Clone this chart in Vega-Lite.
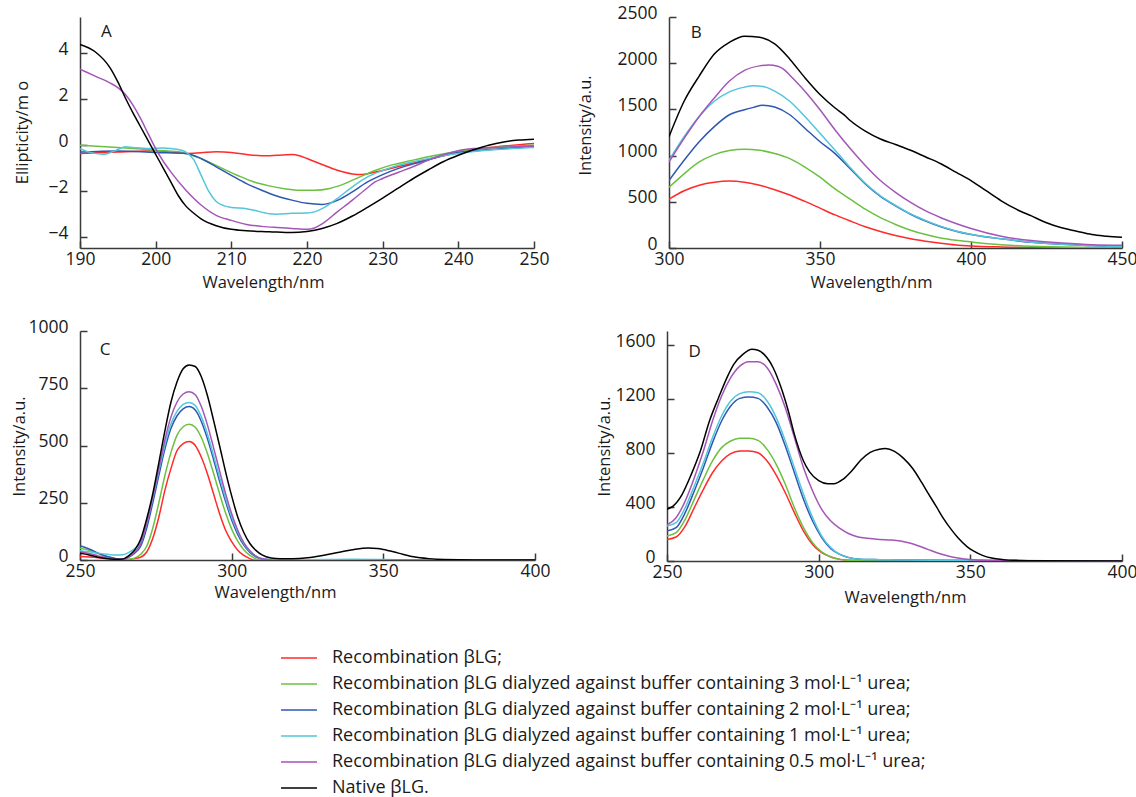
{
 "$schema": "https://vega.github.io/schema/vega-lite/v6.json",
 "padding": {"left": 11, "top": 4, "right": 10, "bottom": 5},
 "background": "white",
 "bounds": "flush",
 "spacing": 314,
 "config": {
  "view": {"stroke": null},
  "font": "Open Sans",
  "axis": {"domainColor": "#3a3a3a", "domainWidth": 1.5, "tickColor": "#3a3a3a", "tickWidth": 1.5, "tickSize": -7, "grid": false, "labelFont": "Open Sans", "labelFontSize": 17.5, "labelColor": "#1a1a1a", "titleFont": "Open Sans", "titleFontSize": 16.5, "titleFontWeight": "normal", "titleColor": "#1a1a1a", "labelFlush": false, "labelOverlap": false, "titleBaseline": "middle", "titleAlign": "center", "format": "d"},
  "axisX": {"labelPadding": 9},
  "axisY": {"labelPadding": 19, "labelOffset": -4},
  "line": {"strokeWidth": 1.5, "interpolate": "monotone"},
  "text": {"font": "Open Sans", "fontSize": 17, "color": "#1a1a1a"}
 },
 "datasets": {
  "A": [
   {"s":"R","x":190,"y":-0.36},{"s":"R","x":195,"y":-0.3},{"s":"R","x":200,"y":-0.24},{"s":"R","x":202,"y":-0.3},{"s":"R","x":204,"y":-0.36},{"s":"R","x":206,"y":-0.33},{"s":"R","x":208,"y":-0.29},{"s":"R","x":210,"y":-0.32},{"s":"R","x":212,"y":-0.41},{"s":"R","x":214,"y":-0.46},{"s":"R","x":216,"y":-0.44},{"s":"R","x":218,"y":-0.41},{"s":"R","x":219,"y":-0.46},{"s":"R","x":220,"y":-0.58},{"s":"R","x":222,"y":-0.84},{"s":"R","x":224,"y":-1.09},{"s":"R","x":226,"y":-1.25},{"s":"R","x":227,"y":-1.28},{"s":"R","x":228,"y":-1.24},{"s":"R","x":230,"y":-1.1},{"s":"R","x":232,"y":-0.94},{"s":"R","x":235,"y":-0.7},{"s":"R","x":238,"y":-0.46},{"s":"R","x":240,"y":-0.32},{"s":"R","x":243,"y":-0.15},{"s":"R","x":246,"y":-0.04},{"s":"R","x":250,"y":0.07},
   {"s":"U3","x":190,"y":0},{"s":"U3","x":195,"y":-0.1},{"s":"U3","x":200,"y":-0.22},{"s":"U3","x":203,"y":-0.29},{"s":"U3","x":205,"y":-0.46},{"s":"U3","x":207,"y":-0.73},{"s":"U3","x":209,"y":-1.04},{"s":"U3","x":211,"y":-1.34},{"s":"U3","x":213,"y":-1.6},{"s":"U3","x":215,"y":-1.77},{"s":"U3","x":217,"y":-1.89},{"s":"U3","x":219,"y":-1.96},{"s":"U3","x":221,"y":-1.96},{"s":"U3","x":223,"y":-1.88},{"s":"U3","x":225,"y":-1.67},{"s":"U3","x":227,"y":-1.38},{"s":"U3","x":229,"y":-1.1},{"s":"U3","x":231,"y":-0.88},{"s":"U3","x":234,"y":-0.65},{"s":"U3","x":237,"y":-0.44},{"s":"U3","x":240,"y":-0.26},{"s":"U3","x":243,"y":-0.15},{"s":"U3","x":246,"y":-0.07},{"s":"U3","x":250,"y":0},
   {"s":"U2","x":190,"y":-0.3},{"s":"U2","x":195,"y":-0.25},{"s":"U2","x":200,"y":-0.32},{"s":"U2","x":204,"y":-0.36},{"s":"U2","x":206,"y":-0.58},{"s":"U2","x":208,"y":-0.94},{"s":"U2","x":210,"y":-1.31},{"s":"U2","x":212,"y":-1.67},{"s":"U2","x":214,"y":-1.96},{"s":"U2","x":216,"y":-2.21},{"s":"U2","x":218,"y":-2.39},{"s":"U2","x":220,"y":-2.53},{"s":"U2","x":222,"y":-2.58},{"s":"U2","x":223,"y":-2.52},{"s":"U2","x":224,"y":-2.4},{"s":"U2","x":226,"y":-2.03},{"s":"U2","x":228,"y":-1.6},{"s":"U2","x":230,"y":-1.28},{"s":"U2","x":232,"y":-1.02},{"s":"U2","x":235,"y":-0.73},{"s":"U2","x":238,"y":-0.46},{"s":"U2","x":240,"y":-0.32},{"s":"U2","x":243,"y":-0.22},{"s":"U2","x":246,"y":-0.15},{"s":"U2","x":250,"y":-0.05},
   {"s":"U1","x":190,"y":-0.15},{"s":"U1","x":191,"y":-0.28},{"s":"U1","x":193,"y":-0.4},{"s":"U1","x":194.5,"y":-0.26},{"s":"U1","x":196,"y":-0.07},{"s":"U1","x":197,"y":-0.1},{"s":"U1","x":199,"y":-0.15},{"s":"U1","x":201,"y":-0.12},{"s":"U1","x":203,"y":-0.19},{"s":"U1","x":204,"y":-0.3},{"s":"U1","x":205,"y":-0.62},{"s":"U1","x":206,"y":-1.3},{"s":"U1","x":207,"y":-2.0},{"s":"U1","x":208,"y":-2.45},{"s":"U1","x":209,"y":-2.63},{"s":"U1","x":210,"y":-2.71},{"s":"U1","x":212,"y":-2.76},{"s":"U1","x":213,"y":-2.83},{"s":"U1","x":215,"y":-2.98},{"s":"U1","x":216,"y":-3.0},{"s":"U1","x":218,"y":-2.96},{"s":"U1","x":220,"y":-2.95},{"s":"U1","x":221,"y":-2.9},{"s":"U1","x":222,"y":-2.76},{"s":"U1","x":224,"y":-2.32},{"s":"U1","x":226,"y":-1.81},{"s":"U1","x":228,"y":-1.38},{"s":"U1","x":230,"y":-1.1},{"s":"U1","x":232,"y":-0.88},{"s":"U1","x":235,"y":-0.65},{"s":"U1","x":238,"y":-0.46},{"s":"U1","x":240,"y":-0.36},{"s":"U1","x":242,"y":-0.28},{"s":"U1","x":245,"y":-0.19},{"s":"U1","x":250,"y":-0.1},
   {"s":"U05","x":190,"y":3.3},{"s":"U05","x":192,"y":3.0},{"s":"U05","x":194,"y":2.7},{"s":"U05","x":195,"y":2.5},{"s":"U05","x":196,"y":2.2},{"s":"U05","x":197,"y":1.74},{"s":"U05","x":198,"y":1.16},{"s":"U05","x":199,"y":0.5},{"s":"U05","x":200,"y":-0.15},{"s":"U05","x":201,"y":-0.7},{"s":"U05","x":202,"y":-1.16},{"s":"U05","x":204,"y":-1.96},{"s":"U05","x":206,"y":-2.6},{"s":"U05","x":208,"y":-3.05},{"s":"U05","x":210,"y":-3.27},{"s":"U05","x":212,"y":-3.45},{"s":"U05","x":214,"y":-3.53},{"s":"U05","x":216,"y":-3.58},{"s":"U05","x":218,"y":-3.62},{"s":"U05","x":220,"y":-3.66},{"s":"U05","x":221,"y":-3.6},{"s":"U05","x":222,"y":-3.42},{"s":"U05","x":224,"y":-2.9},{"s":"U05","x":226,"y":-2.39},{"s":"U05","x":228,"y":-1.85},{"s":"U05","x":229,"y":-1.6},{"s":"U05","x":230,"y":-1.45},{"s":"U05","x":232,"y":-1.19},{"s":"U05","x":234,"y":-0.94},{"s":"U05","x":236,"y":-0.66},{"s":"U05","x":238,"y":-0.42},{"s":"U05","x":240,"y":-0.24},{"s":"U05","x":242,"y":-0.15},{"s":"U05","x":245,"y":-0.1},{"s":"U05","x":250,"y":-0.04},
   {"s":"N","x":190,"y":4.38},{"s":"N","x":192,"y":4.06},{"s":"N","x":194,"y":3.35},{"s":"N","x":195,"y":2.75},{"s":"N","x":196,"y":2.05},{"s":"N","x":197,"y":1.4},{"s":"N","x":198,"y":0.8},{"s":"N","x":199,"y":0.2},{"s":"N","x":200,"y":-0.4},{"s":"N","x":201,"y":-1.0},{"s":"N","x":202,"y":-1.6},{"s":"N","x":203,"y":-2.2},{"s":"N","x":204,"y":-2.65},{"s":"N","x":205,"y":-2.95},{"s":"N","x":206,"y":-3.2},{"s":"N","x":208,"y":-3.5},{"s":"N","x":210,"y":-3.66},{"s":"N","x":212,"y":-3.72},{"s":"N","x":215,"y":-3.76},{"s":"N","x":218,"y":-3.8},{"s":"N","x":220,"y":-3.75},{"s":"N","x":222,"y":-3.62},{"s":"N","x":224,"y":-3.4},{"s":"N","x":226,"y":-3.08},{"s":"N","x":228,"y":-2.7},{"s":"N","x":230,"y":-2.3},{"s":"N","x":232,"y":-1.88},{"s":"N","x":234,"y":-1.46},{"s":"N","x":236,"y":-1.08},{"s":"N","x":238,"y":-0.72},{"s":"N","x":240,"y":-0.44},{"s":"N","x":242,"y":-0.2},{"s":"N","x":244,"y":0.0},{"s":"N","x":246,"y":0.14},{"s":"N","x":248,"y":0.22},{"s":"N","x":250,"y":0.26}
  ],
  "B": [
   {"s":"R","x":300,"y":529},{"s":"R","x":305,"y":620},{"s":"R","x":310,"y":680},{"s":"R","x":315,"y":712},{"s":"R","x":320,"y":725},{"s":"R","x":325,"y":712},{"s":"R","x":330,"y":680},{"s":"R","x":335,"y":631},{"s":"R","x":340,"y":573},{"s":"R","x":345,"y":504},{"s":"R","x":350,"y":431},{"s":"R","x":355,"y":358},{"s":"R","x":360,"y":292},{"s":"R","x":365,"y":230},{"s":"R","x":370,"y":179},{"s":"R","x":375,"y":135},{"s":"R","x":380,"y":99},{"s":"R","x":385,"y":73},{"s":"R","x":390,"y":51},{"s":"R","x":395,"y":33},{"s":"R","x":400,"y":22},{"s":"R","x":410,"y":11},{"s":"R","x":425,"y":4},{"s":"R","x":450,"y":0},
   {"s":"U3","x":300,"y":657},{"s":"U3","x":305,"y":803},{"s":"U3","x":310,"y":931},{"s":"U3","x":315,"y":1011},{"s":"U3","x":320,"y":1055},{"s":"U3","x":325,"y":1070},{"s":"U3","x":330,"y":1058},{"s":"U3","x":335,"y":1022},{"s":"U3","x":340,"y":967},{"s":"U3","x":345,"y":876},{"s":"U3","x":350,"y":766},{"s":"U3","x":355,"y":639},{"s":"U3","x":360,"y":529},{"s":"U3","x":365,"y":420},{"s":"U3","x":370,"y":328},{"s":"U3","x":375,"y":255},{"s":"U3","x":380,"y":193},{"s":"U3","x":385,"y":146},{"s":"U3","x":390,"y":109},{"s":"U3","x":395,"y":84},{"s":"U3","x":400,"y":66},{"s":"U3","x":410,"y":36},{"s":"U3","x":420,"y":18},{"s":"U3","x":435,"y":7},{"s":"U3","x":450,"y":4},
   {"s":"U2","x":300,"y":730},{"s":"U2","x":305,"y":949},{"s":"U2","x":310,"y":1150},{"s":"U2","x":315,"y":1314},{"s":"U2","x":320,"y":1442},{"s":"U2","x":325,"y":1496},{"s":"U2","x":328,"y":1522},{"s":"U2","x":331,"y":1545},{"s":"U2","x":335,"y":1525},{"s":"U2","x":340,"y":1442},{"s":"U2","x":345,"y":1296},{"s":"U2","x":350,"y":1150},{"s":"U2","x":355,"y":1022},{"s":"U2","x":360,"y":858},{"s":"U2","x":365,"y":693},{"s":"U2","x":370,"y":558},{"s":"U2","x":375,"y":456},{"s":"U2","x":380,"y":365},{"s":"U2","x":385,"y":292},{"s":"U2","x":390,"y":230},{"s":"U2","x":395,"y":182},{"s":"U2","x":400,"y":146},{"s":"U2","x":410,"y":99},{"s":"U2","x":420,"y":62},{"s":"U2","x":430,"y":40},{"s":"U2","x":440,"y":26},{"s":"U2","x":450,"y":15},
   {"s":"U1","x":300,"y":949},{"s":"U1","x":305,"y":1204},{"s":"U1","x":310,"y":1423},{"s":"U1","x":315,"y":1588},{"s":"U1","x":320,"y":1690},{"s":"U1","x":325,"y":1741},{"s":"U1","x":328,"y":1757},{"s":"U1","x":332,"y":1741},{"s":"U1","x":335,"y":1697},{"s":"U1","x":340,"y":1588},{"s":"U1","x":345,"y":1423},{"s":"U1","x":350,"y":1241},{"s":"U1","x":355,"y":1058},{"s":"U1","x":360,"y":870},{"s":"U1","x":365,"y":700},{"s":"U1","x":370,"y":565},{"s":"U1","x":375,"y":462},{"s":"U1","x":380,"y":370},{"s":"U1","x":385,"y":296},{"s":"U1","x":390,"y":234},{"s":"U1","x":395,"y":185},{"s":"U1","x":400,"y":149},{"s":"U1","x":410,"y":100},{"s":"U1","x":420,"y":63},{"s":"U1","x":430,"y":40},{"s":"U1","x":440,"y":26},{"s":"U1","x":450,"y":15},
   {"s":"U05","x":300,"y":931},{"s":"U05","x":305,"y":1186},{"s":"U05","x":310,"y":1423},{"s":"U05","x":315,"y":1624},{"s":"U05","x":320,"y":1807},{"s":"U05","x":325,"y":1923},{"s":"U05","x":330,"y":1971},{"s":"U05","x":333,"y":1980},{"s":"U05","x":336,"y":1968},{"s":"U05","x":338,"y":1934},{"s":"U05","x":340,"y":1870},{"s":"U05","x":345,"y":1697},{"s":"U05","x":350,"y":1496},{"s":"U05","x":355,"y":1277},{"s":"U05","x":360,"y":1077},{"s":"U05","x":365,"y":894},{"s":"U05","x":370,"y":730},{"s":"U05","x":375,"y":602},{"s":"U05","x":380,"y":493},{"s":"U05","x":385,"y":401},{"s":"U05","x":390,"y":328},{"s":"U05","x":395,"y":266},{"s":"U05","x":400,"y":212},{"s":"U05","x":410,"y":128},{"s":"U05","x":420,"y":80},{"s":"U05","x":430,"y":55},{"s":"U05","x":440,"y":36},{"s":"U05","x":450,"y":29},
   {"s":"N","x":300,"y":1204},{"s":"N","x":305,"y":1588},{"s":"N","x":310,"y":1861},{"s":"N","x":315,"y":2099},{"s":"N","x":320,"y":2226},{"s":"N","x":325,"y":2292},{"s":"N","x":330,"y":2281},{"s":"N","x":335,"y":2208},{"s":"N","x":340,"y":2044},{"s":"N","x":345,"y":1843},{"s":"N","x":350,"y":1661},{"s":"N","x":355,"y":1515},{"s":"N","x":358,"y":1440},{"s":"N","x":360,"y":1380},{"s":"N","x":365,"y":1265},{"s":"N","x":370,"y":1180},{"s":"N","x":375,"y":1120},{"s":"N","x":380,"y":1058},{"s":"N","x":385,"y":985},{"s":"N","x":390,"y":912},{"s":"N","x":395,"y":821},{"s":"N","x":400,"y":730},{"s":"N","x":405,"y":620},{"s":"N","x":410,"y":511},{"s":"N","x":415,"y":420},{"s":"N","x":420,"y":347},{"s":"N","x":425,"y":274},{"s":"N","x":430,"y":219},{"s":"N","x":435,"y":182},{"s":"N","x":440,"y":146},{"s":"N","x":445,"y":128},{"s":"N","x":450,"y":115}
  ],
  "C": [
   {"s":"R","x":250,"y":15},{"s":"R","x":253,"y":13},{"s":"R","x":256,"y":10},{"s":"R","x":259,"y":5},{"s":"R","x":262,"y":0},{"s":"R","x":264,"y":-2},{"s":"R","x":266,"y":1},{"s":"R","x":268,"y":6},{"s":"R","x":270,"y":12},{"s":"R","x":272,"y":35},{"s":"R","x":274,"y":95},{"s":"R","x":276,"y":188},{"s":"R","x":278,"y":305},{"s":"R","x":280,"y":400},{"s":"R","x":282,"y":478},{"s":"R","x":284,"y":508},{"s":"R","x":286,"y":517},{"s":"R","x":288,"y":500},{"s":"R","x":290,"y":449},{"s":"R","x":292,"y":377},{"s":"R","x":294,"y":290},{"s":"R","x":296,"y":203},{"s":"R","x":298,"y":130},{"s":"R","x":300,"y":80},{"s":"R","x":302,"y":43},{"s":"R","x":304,"y":20},{"s":"R","x":306,"y":6},{"s":"R","x":308,"y":-3},{"s":"R","x":310,"y":-7},{"s":"R","x":315,"y":-10},{"s":"R","x":320,"y":-10},{"s":"R","x":330,"y":-9},{"s":"R","x":340,"y":-6},{"s":"R","x":350,"y":-3},{"s":"R","x":360,"y":-1},{"s":"R","x":370,"y":0},{"s":"R","x":400,"y":0},
   {"s":"U3","x":250,"y":51},{"s":"U3","x":253,"y":42},{"s":"U3","x":256,"y":28},{"s":"U3","x":259,"y":14},{"s":"U3","x":262,"y":4},{"s":"U3","x":264,"y":0},{"s":"U3","x":266,"y":3},{"s":"U3","x":268,"y":8},{"s":"U3","x":270,"y":25},{"s":"U3","x":272,"y":60},{"s":"U3","x":274,"y":140},{"s":"U3","x":276,"y":250},{"s":"U3","x":278,"y":370},{"s":"U3","x":280,"y":470},{"s":"U3","x":282,"y":545},{"s":"U3","x":284,"y":582},{"s":"U3","x":286,"y":593},{"s":"U3","x":288,"y":580},{"s":"U3","x":290,"y":535},{"s":"U3","x":292,"y":465},{"s":"U3","x":294,"y":380},{"s":"U3","x":296,"y":290},{"s":"U3","x":298,"y":205},{"s":"U3","x":300,"y":135},{"s":"U3","x":302,"y":82},{"s":"U3","x":304,"y":45},{"s":"U3","x":306,"y":20},{"s":"U3","x":308,"y":5},{"s":"U3","x":310,"y":-3},{"s":"U3","x":315,"y":-7},{"s":"U3","x":320,"y":-8},{"s":"U3","x":330,"y":-7},{"s":"U3","x":340,"y":-4},{"s":"U3","x":350,"y":-2},{"s":"U3","x":360,"y":-1},{"s":"U3","x":370,"y":0},{"s":"U3","x":400,"y":0},
   {"s":"U2","x":250,"y":62},{"s":"U2","x":253,"y":48},{"s":"U2","x":256,"y":30},{"s":"U2","x":259,"y":15},{"s":"U2","x":262,"y":6},{"s":"U2","x":264,"y":2},{"s":"U2","x":266,"y":12},{"s":"U2","x":268,"y":30},{"s":"U2","x":270,"y":60},{"s":"U2","x":272,"y":140},{"s":"U2","x":274,"y":250},{"s":"U2","x":276,"y":370},{"s":"U2","x":278,"y":485},{"s":"U2","x":280,"y":575},{"s":"U2","x":282,"y":630},{"s":"U2","x":284,"y":660},{"s":"U2","x":286,"y":670},{"s":"U2","x":288,"y":655},{"s":"U2","x":290,"y":605},{"s":"U2","x":292,"y":530},{"s":"U2","x":294,"y":440},{"s":"U2","x":296,"y":345},{"s":"U2","x":298,"y":255},{"s":"U2","x":300,"y":175},{"s":"U2","x":302,"y":112},{"s":"U2","x":304,"y":65},{"s":"U2","x":306,"y":33},{"s":"U2","x":308,"y":14},{"s":"U2","x":310,"y":4},{"s":"U2","x":315,"y":-2},{"s":"U2","x":320,"y":-2},{"s":"U2","x":330,"y":0},{"s":"U2","x":340,"y":1},{"s":"U2","x":350,"y":1},{"s":"U2","x":360,"y":0},{"s":"U2","x":400,"y":0},
   {"s":"U1","x":250,"y":41},{"s":"U1","x":253,"y":36},{"s":"U1","x":256,"y":30},{"s":"U1","x":259,"y":25},{"s":"U1","x":262,"y":22},{"s":"U1","x":264,"y":23},{"s":"U1","x":266,"y":32},{"s":"U1","x":268,"y":50},{"s":"U1","x":270,"y":75},{"s":"U1","x":272,"y":160},{"s":"U1","x":274,"y":270},{"s":"U1","x":276,"y":390},{"s":"U1","x":278,"y":505},{"s":"U1","x":280,"y":595},{"s":"U1","x":282,"y":650},{"s":"U1","x":284,"y":680},{"s":"U1","x":286,"y":688},{"s":"U1","x":288,"y":675},{"s":"U1","x":290,"y":625},{"s":"U1","x":292,"y":550},{"s":"U1","x":294,"y":458},{"s":"U1","x":296,"y":362},{"s":"U1","x":298,"y":270},{"s":"U1","x":300,"y":188},{"s":"U1","x":302,"y":122},{"s":"U1","x":304,"y":72},{"s":"U1","x":306,"y":38},{"s":"U1","x":308,"y":17},{"s":"U1","x":310,"y":7},{"s":"U1","x":315,"y":2},{"s":"U1","x":320,"y":1},{"s":"U1","x":330,"y":2},{"s":"U1","x":340,"y":3},{"s":"U1","x":350,"y":2},{"s":"U1","x":360,"y":1},{"s":"U1","x":400,"y":0},
   {"s":"U05","x":250,"y":36},{"s":"U05","x":253,"y":28},{"s":"U05","x":256,"y":18},{"s":"U05","x":259,"y":9},{"s":"U05","x":262,"y":3},{"s":"U05","x":264,"y":2},{"s":"U05","x":266,"y":12},{"s":"U05","x":268,"y":35},{"s":"U05","x":270,"y":70},{"s":"U05","x":272,"y":160},{"s":"U05","x":274,"y":275},{"s":"U05","x":276,"y":400},{"s":"U05","x":278,"y":525},{"s":"U05","x":280,"y":625},{"s":"U05","x":282,"y":690},{"s":"U05","x":284,"y":725},{"s":"U05","x":286,"y":735},{"s":"U05","x":288,"y":722},{"s":"U05","x":290,"y":670},{"s":"U05","x":292,"y":590},{"s":"U05","x":294,"y":492},{"s":"U05","x":296,"y":390},{"s":"U05","x":298,"y":290},{"s":"U05","x":300,"y":202},{"s":"U05","x":302,"y":130},{"s":"U05","x":304,"y":76},{"s":"U05","x":306,"y":40},{"s":"U05","x":308,"y":17},{"s":"U05","x":310,"y":5},{"s":"U05","x":315,"y":-2},{"s":"U05","x":320,"y":-3},{"s":"U05","x":330,"y":-3},{"s":"U05","x":340,"y":-2},{"s":"U05","x":350,"y":-1},{"s":"U05","x":360,"y":0},{"s":"U05","x":400,"y":0},
   {"s":"N","x":250,"y":29},{"s":"N","x":253,"y":22},{"s":"N","x":256,"y":12},{"s":"N","x":259,"y":6},{"s":"N","x":262,"y":3},{"s":"N","x":264,"y":4},{"s":"N","x":266,"y":18},{"s":"N","x":268,"y":43},{"s":"N","x":270,"y":90},{"s":"N","x":272,"y":180},{"s":"N","x":274,"y":290},{"s":"N","x":276,"y":425},{"s":"N","x":278,"y":565},{"s":"N","x":280,"y":690},{"s":"N","x":282,"y":778},{"s":"N","x":284,"y":835},{"s":"N","x":286,"y":852},{"s":"N","x":288,"y":845},{"s":"N","x":290,"y":800},{"s":"N","x":292,"y":718},{"s":"N","x":294,"y":612},{"s":"N","x":296,"y":500},{"s":"N","x":298,"y":385},{"s":"N","x":300,"y":280},{"s":"N","x":302,"y":188},{"s":"N","x":304,"y":120},{"s":"N","x":306,"y":72},{"s":"N","x":308,"y":42},{"s":"N","x":310,"y":22},{"s":"N","x":313,"y":9},{"s":"N","x":316,"y":6},{"s":"N","x":320,"y":6},{"s":"N","x":325,"y":10},{"s":"N","x":330,"y":20},{"s":"N","x":335,"y":33},{"s":"N","x":340,"y":45},{"s":"N","x":345,"y":52},{"s":"N","x":348,"y":50},{"s":"N","x":350,"y":46},{"s":"N","x":355,"y":30},{"s":"N","x":360,"y":14},{"s":"N","x":365,"y":6},{"s":"N","x":370,"y":2},{"s":"N","x":380,"y":0},{"s":"N","x":400,"y":0}
  ],
  "D": [
   {"s":"R","x":250,"y":160},{"s":"R","x":253,"y":178},{"s":"R","x":256,"y":259},{"s":"R","x":259,"y":395},{"s":"R","x":262,"y":531},{"s":"R","x":265,"y":654},{"s":"R","x":268,"y":741},{"s":"R","x":271,"y":795},{"s":"R","x":274,"y":815},{"s":"R","x":277,"y":815},{"s":"R","x":280,"y":802},{"s":"R","x":283,"y":741},{"s":"R","x":286,"y":637},{"s":"R","x":289,"y":506},{"s":"R","x":292,"y":358},{"s":"R","x":295,"y":222},{"s":"R","x":298,"y":123},{"s":"R","x":301,"y":62},{"s":"R","x":304,"y":30},{"s":"R","x":307,"y":12},{"s":"R","x":310,"y":5},{"s":"R","x":320,"y":0},{"s":"R","x":400,"y":0},
   {"s":"U3","x":250,"y":185},{"s":"U3","x":253,"y":210},{"s":"U3","x":256,"y":309},{"s":"U3","x":259,"y":457},{"s":"U3","x":262,"y":605},{"s":"U3","x":265,"y":741},{"s":"U3","x":268,"y":840},{"s":"U3","x":271,"y":889},{"s":"U3","x":274,"y":909},{"s":"U3","x":277,"y":909},{"s":"U3","x":280,"y":894},{"s":"U3","x":283,"y":827},{"s":"U3","x":286,"y":716},{"s":"U3","x":289,"y":568},{"s":"U3","x":292,"y":395},{"s":"U3","x":295,"y":247},{"s":"U3","x":298,"y":136},{"s":"U3","x":301,"y":67},{"s":"U3","x":304,"y":30},{"s":"U3","x":307,"y":12},{"s":"U3","x":310,"y":5},{"s":"U3","x":320,"y":2},{"s":"U3","x":400,"y":0},
   {"s":"U2","x":250,"y":222},{"s":"U2","x":253,"y":247},{"s":"U2","x":256,"y":358},{"s":"U2","x":259,"y":519},{"s":"U2","x":262,"y":691},{"s":"U2","x":265,"y":877},{"s":"U2","x":268,"y":1037},{"s":"U2","x":271,"y":1148},{"s":"U2","x":274,"y":1205},{"s":"U2","x":277,"y":1215},{"s":"U2","x":280,"y":1205},{"s":"U2","x":283,"y":1141},{"s":"U2","x":286,"y":1025},{"s":"U2","x":289,"y":852},{"s":"U2","x":292,"y":654},{"s":"U2","x":295,"y":457},{"s":"U2","x":298,"y":296},{"s":"U2","x":301,"y":173},{"s":"U2","x":304,"y":91},{"s":"U2","x":307,"y":49},{"s":"U2","x":310,"y":25},{"s":"U2","x":315,"y":12},{"s":"U2","x":320,"y":10},{"s":"U2","x":330,"y":7},{"s":"U2","x":350,"y":5},{"s":"U2","x":400,"y":0},
   {"s":"U1","x":250,"y":259},{"s":"U1","x":253,"y":284},{"s":"U1","x":256,"y":395},{"s":"U1","x":259,"y":556},{"s":"U1","x":262,"y":728},{"s":"U1","x":265,"y":914},{"s":"U1","x":268,"y":1074},{"s":"U1","x":271,"y":1185},{"s":"U1","x":274,"y":1240},{"s":"U1","x":277,"y":1254},{"s":"U1","x":280,"y":1247},{"s":"U1","x":283,"y":1185},{"s":"U1","x":286,"y":1062},{"s":"U1","x":289,"y":889},{"s":"U1","x":292,"y":691},{"s":"U1","x":295,"y":494},{"s":"U1","x":298,"y":321},{"s":"U1","x":301,"y":185},{"s":"U1","x":304,"y":99},{"s":"U1","x":307,"y":49},{"s":"U1","x":310,"y":25},{"s":"U1","x":315,"y":12},{"s":"U1","x":320,"y":10},{"s":"U1","x":330,"y":7},{"s":"U1","x":340,"y":5},{"s":"U1","x":360,"y":2},{"s":"U1","x":400,"y":0},
   {"s":"U05","x":250,"y":267},{"s":"U05","x":253,"y":321},{"s":"U05","x":256,"y":444},{"s":"U05","x":259,"y":617},{"s":"U05","x":262,"y":815},{"s":"U05","x":265,"y":1037},{"s":"U05","x":268,"y":1222},{"s":"U05","x":271,"y":1358},{"s":"U05","x":274,"y":1444},{"s":"U05","x":277,"y":1477},{"s":"U05","x":280,"y":1477},{"s":"U05","x":283,"y":1432},{"s":"U05","x":286,"y":1309},{"s":"U05","x":289,"y":1136},{"s":"U05","x":292,"y":914},{"s":"U05","x":295,"y":691},{"s":"U05","x":298,"y":519},{"s":"U05","x":301,"y":383},{"s":"U05","x":304,"y":296},{"s":"U05","x":307,"y":242},{"s":"U05","x":310,"y":202},{"s":"U05","x":313,"y":178},{"s":"U05","x":316,"y":168},{"s":"U05","x":320,"y":160},{"s":"U05","x":324,"y":156},{"s":"U05","x":327,"y":148},{"s":"U05","x":330,"y":133},{"s":"U05","x":333,"y":111},{"s":"U05","x":336,"y":86},{"s":"U05","x":340,"y":54},{"s":"U05","x":344,"y":30},{"s":"U05","x":348,"y":15},{"s":"U05","x":352,"y":7},{"s":"U05","x":360,"y":2},{"s":"U05","x":400,"y":0},
   {"s":"N","x":250,"y":383},{"s":"N","x":252,"y":407},{"s":"N","x":255,"y":494},{"s":"N","x":258,"y":642},{"s":"N","x":261,"y":815},{"s":"N","x":264,"y":1037},{"s":"N","x":267,"y":1210},{"s":"N","x":270,"y":1370},{"s":"N","x":272,"y":1457},{"s":"N","x":275,"y":1531},{"s":"N","x":278,"y":1568},{"s":"N","x":280,"y":1562},{"s":"N","x":282,"y":1531},{"s":"N","x":285,"y":1432},{"s":"N","x":288,"y":1259},{"s":"N","x":290,"y":1111},{"s":"N","x":292,"y":938},{"s":"N","x":295,"y":741},{"s":"N","x":297,"y":660},{"s":"N","x":300,"y":595},{"s":"N","x":303,"y":572},{"s":"N","x":305,"y":572},{"s":"N","x":308,"y":605},{"s":"N","x":311,"y":670},{"s":"N","x":314,"y":750},{"s":"N","x":317,"y":805},{"s":"N","x":320,"y":828},{"s":"N","x":322,"y":833},{"s":"N","x":325,"y":812},{"s":"N","x":328,"y":760},{"s":"N","x":331,"y":685},{"s":"N","x":334,"y":580},{"s":"N","x":336,"y":505},{"s":"N","x":339,"y":395},{"s":"N","x":341,"y":320},{"s":"N","x":344,"y":225},{"s":"N","x":346,"y":170},{"s":"N","x":349,"y":105},{"s":"N","x":351,"y":75},{"s":"N","x":354,"y":42},{"s":"N","x":357,"y":22},{"s":"N","x":361,"y":10},{"s":"N","x":366,"y":4},{"s":"N","x":372,"y":1},{"s":"N","x":400,"y":0}
  ]
 },
 "vconcat": [
  {
   "bounds": "flush",
   "spacing": 135,
   "hconcat": [
    {
     "width": 454, "height": 231,
     "layer": [
      {
       "data": {"name": "A"},
       "mark": {"type": "line", "clip": true},
       "encoding": {
        "x": {"field": "x", "type": "quantitative", "scale": {"domain": [190, 250], "nice": false, "zero": false}, "axis": {"values": [190, 200, 210, 220, 230, 240, 250], "title": "Wavelength/nm", "titleX": 183, "titleY": 34}},
        "y": {"field": "y", "type": "quantitative", "scale": {"domain": [-4.47, 5.57], "nice": false, "zero": false}, "axis": {"values": [-4, -2, 0, 2, 4], "title": "Ellipticity/m o", "titleX": -58, "titleY": 115}},
        "color": {"field": "s", "type": "nominal", "scale": {"domain": ["R", "U3", "U2", "U1", "U05", "N"], "range": ["#ff2a2a", "#6cc040", "#2e57b3", "#52c6da", "#a455b8", "#000000"]},
         "legend": {"orient": "none", "legendX": 210, "legendY": 632, "direction": "vertical", "title": null, "symbolType": "M-3,0H3", "symbolSize": 144, "symbolStrokeWidth": 1.5, "labelFont": "Open Sans", "labelFontSize": 18, "labelColor": "#1a1a1a", "labelLimit": 1000, "rowPadding": 8, "labelOffset": 24, "padding": 0,
          "labelExpr": "datum.value == 'R' ? 'Recombination βLG;' : datum.value == 'U3' ? 'Recombination βLG dialyzed against buffer containing 3 mol·L⁻¹ urea;' : datum.value == 'U2' ? 'Recombination βLG dialyzed against buffer containing 2 mol·L⁻¹ urea;' : datum.value == 'U1' ? 'Recombination βLG dialyzed against buffer containing 1 mol·L⁻¹ urea;' : datum.value == 'U05' ? 'Recombination βLG dialyzed against buffer containing 0.5 mol·L⁻¹ urea;' : 'Native βLG.'"}}
       }
      },
      {
       "data": {"values": [{"t": "A"}]},
       "mark": {"type": "text", "align": "center", "baseline": "middle"},
       "encoding": {"x": {"datum": 193.5}, "y": {"datum": 4.9}, "text": {"field": "t"}}
      }
     ]
    },
    {
     "width": 453, "height": 231,
     "layer": [
      {
       "data": {"name": "B"},
       "mark": {"type": "line", "clip": true},
       "encoding": {
        "x": {"field": "x", "type": "quantitative", "scale": {"domain": [300, 450], "nice": false, "zero": false}, "axis": {"values": [300, 350, 400, 450], "title": "Wavelength/nm", "titleX": 202, "titleY": 34}},
        "y": {"field": "y", "type": "quantitative", "scale": {"domain": [0, 2500], "nice": false}, "axis": {"values": [0, 500, 1000, 1500, 2000, 2500], "title": "Intensity/a.u.", "titleX": -84, "titleY": 108}},
        "color": {"field": "s", "type": "nominal", "scale": {"domain": ["R", "U3", "U2", "U1", "U05", "N"], "range": ["#ff2a2a", "#6cc040", "#2e57b3", "#52c6da", "#a455b8", "#000000"]},
         "legend": {"orient": "none", "legendX": 210, "legendY": 632, "direction": "vertical", "title": null, "symbolType": "M-3,0H3", "symbolSize": 144, "symbolStrokeWidth": 1.5, "labelFont": "Open Sans", "labelFontSize": 18, "labelColor": "#1a1a1a", "labelLimit": 1000, "rowPadding": 8, "labelOffset": 24, "padding": 0,
          "labelExpr": "datum.value == 'R' ? 'Recombination βLG;' : datum.value == 'U3' ? 'Recombination βLG dialyzed against buffer containing 3 mol·L⁻¹ urea;' : datum.value == 'U2' ? 'Recombination βLG dialyzed against buffer containing 2 mol·L⁻¹ urea;' : datum.value == 'U1' ? 'Recombination βLG dialyzed against buffer containing 1 mol·L⁻¹ urea;' : datum.value == 'U05' ? 'Recombination βLG dialyzed against buffer containing 0.5 mol·L⁻¹ urea;' : 'Native βLG.'"}}
       }
      },
      {
       "data": {"values": [{"t": "B"}]},
       "mark": {"type": "text", "align": "center", "baseline": "middle"},
       "encoding": {"x": {"datum": 309}, "y": {"datum": 2328}, "text": {"field": "t"}}
      }
     ]
    }
   ]
  },
  {
   "bounds": "flush",
   "spacing": 132,
   "hconcat": [
    {
     "width": 455, "height": 229,
     "layer": [
      {
       "data": {"name": "C"},
       "mark": {"type": "line", "clip": true},
       "encoding": {
        "x": {"field": "x", "type": "quantitative", "scale": {"domain": [250, 400], "nice": false, "zero": false}, "axis": {"values": [250, 300, 350, 400], "title": "Wavelength/nm", "titleX": 195, "titleY": 32}},
        "y": {"field": "y", "type": "quantitative", "scale": {"domain": [0, 1000], "nice": false}, "axis": {"values": [0, 250, 500, 750, 1000], "title": "Intensity/a.u.", "titleX": -61, "titleY": 115}},
        "color": {"field": "s", "type": "nominal", "scale": {"domain": ["R", "U3", "U2", "U1", "U05", "N"], "range": ["#ff2a2a", "#6cc040", "#2e57b3", "#52c6da", "#a455b8", "#000000"]},
         "legend": {"orient": "none", "legendX": 210, "legendY": 632, "direction": "vertical", "title": null, "symbolType": "M-3,0H3", "symbolSize": 144, "symbolStrokeWidth": 1.5, "labelFont": "Open Sans", "labelFontSize": 18, "labelColor": "#1a1a1a", "labelLimit": 1000, "rowPadding": 8, "labelOffset": 24, "padding": 0,
          "labelExpr": "datum.value == 'R' ? 'Recombination βLG;' : datum.value == 'U3' ? 'Recombination βLG dialyzed against buffer containing 3 mol·L⁻¹ urea;' : datum.value == 'U2' ? 'Recombination βLG dialyzed against buffer containing 2 mol·L⁻¹ urea;' : datum.value == 'U1' ? 'Recombination βLG dialyzed against buffer containing 1 mol·L⁻¹ urea;' : datum.value == 'U05' ? 'Recombination βLG dialyzed against buffer containing 0.5 mol·L⁻¹ urea;' : 'Native βLG.'"}}
       }
      },
      {
       "data": {"values": [{"t": "C"}]},
       "mark": {"type": "text", "align": "center", "baseline": "middle"},
       "encoding": {"x": {"datum": 258.3}, "y": {"datum": 919}, "text": {"field": "t"}}
      }
     ]
    },
    {
     "width": 455, "height": 230,
     "layer": [
      {
       "data": {"name": "D"},
       "mark": {"type": "line", "clip": true},
       "encoding": {
        "x": {"field": "x", "type": "quantitative", "scale": {"domain": [250, 400], "nice": false, "zero": false}, "axis": {"values": [250, 300, 350, 400], "title": "Wavelength/nm", "titleX": 238, "titleY": 36}},
        "y": {"field": "y", "type": "quantitative", "scale": {"domain": [0, 1704], "nice": false}, "axis": {"values": [0, 400, 800, 1200, 1600], "title": "Intensity/a.u.", "titleX": -63, "titleY": 115}},
        "color": {"field": "s", "type": "nominal", "scale": {"domain": ["R", "U3", "U2", "U1", "U05", "N"], "range": ["#ff2a2a", "#6cc040", "#2e57b3", "#52c6da", "#a455b8", "#000000"]},
         "legend": {"orient": "none", "legendX": 210, "legendY": 632, "direction": "vertical", "title": null, "symbolType": "M-3,0H3", "symbolSize": 144, "symbolStrokeWidth": 1.5, "labelFont": "Open Sans", "labelFontSize": 18, "labelColor": "#1a1a1a", "labelLimit": 1000, "rowPadding": 8, "labelOffset": 24, "padding": 0,
          "labelExpr": "datum.value == 'R' ? 'Recombination βLG;' : datum.value == 'U3' ? 'Recombination βLG dialyzed against buffer containing 3 mol·L⁻¹ urea;' : datum.value == 'U2' ? 'Recombination βLG dialyzed against buffer containing 2 mol·L⁻¹ urea;' : datum.value == 'U1' ? 'Recombination βLG dialyzed against buffer containing 1 mol·L⁻¹ urea;' : datum.value == 'U05' ? 'Recombination βLG dialyzed against buffer containing 0.5 mol·L⁻¹ urea;' : 'Native βLG.'"}}
       }
      },
      {
       "data": {"values": [{"t": "D"}]},
       "mark": {"type": "text", "align": "center", "baseline": "middle"},
       "encoding": {"x": {"datum": 259.1}, "y": {"datum": 1548}, "text": {"field": "t"}}
      }
     ]
    }
   ]
  }
 ]
}
